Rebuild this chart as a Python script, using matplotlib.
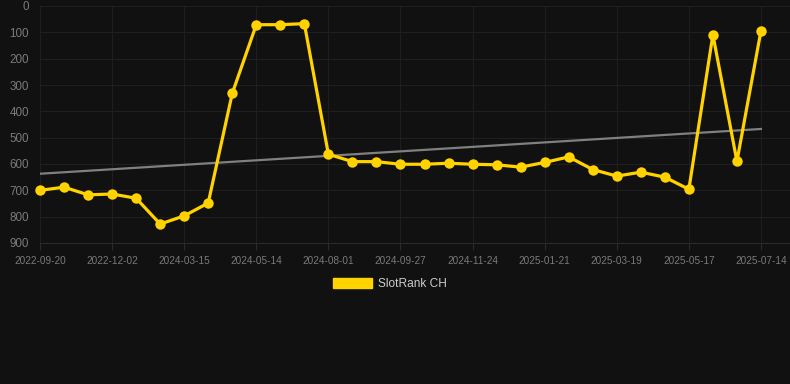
import numpy as np
import matplotlib
matplotlib.use("Agg")
import matplotlib.pyplot as plt
from matplotlib.patches import Patch

plt.rcParams['font.family'] = ['Liberation Sans', 'DejaVu Sans']

# ---- data ----
ranks = [700, 688, 717, 714, 730, 828, 797, 748, 332, 71,
         71, 67, 563, 591, 591, 601, 601, 597, 601, 603,
         612, 594, 573, 621, 646, 631, 650, 696, 109, 590, 94]
tick_labels = ["2022-09-20", "2022-12-02", "2024-03-15", "2024-05-14",
               "2024-08-01", "2024-09-27", "2024-11-24", "2025-01-21",
               "2025-03-19", "2025-05-17", "2025-07-14"]
trend_ends = [637, 467]
series_name = "SlotRank CH"

BG = "#111111"
GOLD = "#FFD200"
GRID = "#1f1f1f"

W, H = 790, 384
fig = plt.figure(figsize=(W / 100, H / 100), dpi=100, facecolor=BG)
ax = fig.add_axes([40 / W, 1 - 243 / H, (790 - 40) / W, (243 - 6) / H])
ax.set_facecolor(BG)

x = np.arange(len(ranks))
ax.plot([x[0], x[-1]], trend_ends, color="#808080", lw=1.6, zorder=2)
ax.plot(x, ranks, color=GOLD, lw=2.3, marker="o", markersize=7.5,
        markeredgewidth=0, zorder=3, clip_on=False)

ax.set_xlim(0, len(ranks) - 1 + 29 / 24)
ax.set_ylim(900, 0)
ax.set_yticks(np.arange(0, 901, 100))
ax.set_xticks(x[::3])
ax.set_xticklabels(tick_labels)

ax.grid(True, color=GRID, lw=0.8)
ax.set_axisbelow(True)
for s in ax.spines.values():
    s.set_visible(False)
ax.spines["bottom"].set_visible(True)
ax.spines["bottom"].set_color("#2a2a2a")
ax.spines["bottom"].set_linewidth(0.8)
ax.tick_params(axis="y", length=0, pad=8, labelsize=8.4, labelcolor="#7a7a7a")
ax.tick_params(axis="x", length=5, width=0.8, color="#2a2a2a", pad=4,
               labelsize=7.2, labelcolor="#7a7a7a")

fig.legend(handles=[Patch(facecolor=GOLD, edgecolor=GOLD)], labels=[series_name],
           loc="center", bbox_to_anchor=(390 / W, 1 - 284 / H), frameon=False,
           fontsize=8.6, labelcolor="#cccccc", handlelength=3.3, handleheight=1.0,
           handletextpad=0.5)

fig.savefig("out.png", dpi=100, facecolor=BG)
